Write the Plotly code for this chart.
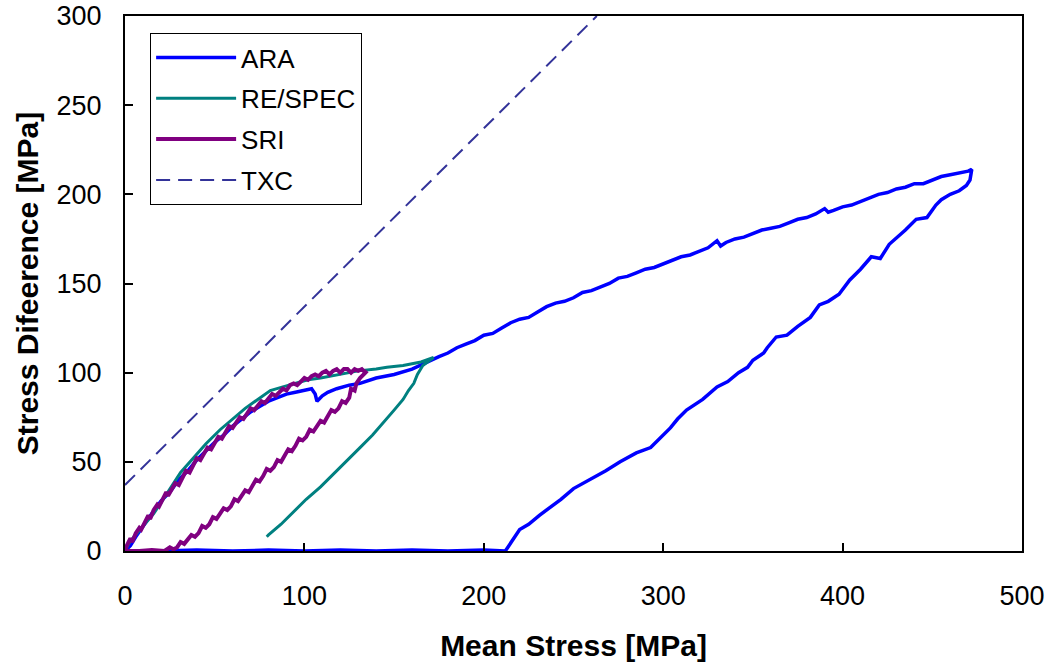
import plotly.graph_objects as go

# ---- data ----
ara_x = [0, 3, 6, 10, 15, 20, 25, 30, 35, 40, 45, 50, 55, 60, 65, 70, 75, 80, 85, 90, 95, 100, 104, 106, 107, 108, 110, 113, 118, 125, 131, 140, 150, 160,
         170, 175, 180, 185, 190, 195, 200, 205, 210, 215, 220, 225, 230, 235, 240, 245, 250, 255, 260, 265, 270, 275, 280, 285, 290, 295, 300, 305, 310, 315, 320, 325, 330, 332, 335, 340, 345, 350, 355, 360, 365, 370, 375, 380, 385, 390, 392, 395, 400, 405, 410, 415, 420, 425, 430, 435, 440, 445, 450, 455, 460, 465, 470, 472,
         471, 469, 465, 460, 455, 452, 447, 441, 435, 426, 421, 416, 410, 404, 398, 392, 387, 382, 375, 369, 363, 358, 356, 350, 347, 342, 336, 330, 322, 313, 308, 304, 298, 293, 285, 276, 268, 259, 250, 243, 236, 231, 225, 220, 216, 213, 212,
         200, 180, 160, 140, 120, 100, 80, 60, 40, 20, 0]
ara_y = [0, 3, 8, 14, 21, 28, 33, 40, 45, 51, 56, 61, 65, 70, 74, 78, 81, 84, 86, 88, 89, 90, 91, 88, 84, 85, 87, 89, 91, 93, 94, 97, 99, 102,
         107, 109, 111, 114, 116, 118, 121, 122, 125, 128, 130, 131, 134, 137, 139, 140, 142, 145, 146, 148, 150, 153, 154, 156, 158, 159, 161, 163, 165, 166, 168, 170, 174, 171, 173, 175, 176, 178, 180, 181, 182, 184, 186, 187, 189, 192, 190, 191, 193, 194, 196, 198, 200, 201, 203, 204, 206, 206, 208, 210, 211, 212, 213, 214,
         208, 205, 202, 200, 197, 194, 187, 186, 180, 172, 164, 165, 158, 152, 144, 140, 138, 131, 126, 121, 120, 114, 111, 107, 103, 100, 95, 92, 85, 79, 74, 69, 63, 58, 55, 50, 45, 40, 35, 29, 24, 20, 15, 12, 6, 2, 0,
         0.5, 0, 0.5, 0, 0.5, 0, 0.5, 0, 0.5, 0, 0]

respec_x = [0, 2, 5, 10, 16, 20, 25, 31, 38, 45, 53, 60, 67, 74, 81, 88, 95, 102, 109, 120, 130, 140, 146, 155, 165, 172,
            169, 166, 163, 161, 158, 155, 150, 144, 138, 131, 124, 116, 109, 101, 94, 87, 80, 79]
respec_y = [0, 4, 8, 14, 21, 27, 35, 44, 52, 60, 68, 74, 80, 85, 90, 92, 94, 96, 97, 99, 101, 102, 103, 104, 106, 108.5,
            106, 104, 99, 94, 90, 85, 79, 72, 65, 58, 51, 43, 36, 29, 22, 15, 9, 8]

sri_x = [0, 1, 3, 4, 6, 8, 9, 11, 13, 14, 16, 18, 19, 21, 23, 24, 26, 28, 30, 32, 34, 36, 38, 40, 42, 44, 46, 48, 50, 52, 54, 56, 58, 60, 62, 64, 66, 68, 70, 72, 74, 76, 78, 80, 82, 84, 86, 88, 90, 92, 94, 96, 98, 100, 102, 104, 106, 108, 110, 112, 114, 116, 118, 120, 122, 124, 126, 128, 130, 132, 134, 135,
         133, 131, 129, 128, 126, 125, 123, 121, 119, 117, 115, 113, 111, 109, 107, 105, 103, 101, 99, 97, 95, 93, 91, 89, 87, 85, 83, 81, 79, 77, 75, 73, 71, 69, 67, 65, 63, 61, 59, 57, 55, 53, 51, 49, 47, 45, 43, 41, 39, 37, 35, 33, 31, 29, 27, 25, 22, 15, 8, 0]
sri_y = [0, 3, 7, 5, 10, 13, 12, 16, 20, 18, 23, 26, 25, 29, 33, 31, 35, 38, 37, 41, 45, 44, 48, 52, 51, 55, 58, 57, 61, 64, 63, 67, 70, 69, 72, 75, 74, 77, 80, 79, 82, 84, 83, 86, 88, 87, 89, 91, 90, 93, 94, 93, 95, 97, 96, 98, 99, 98, 100, 101, 99, 101, 102, 100, 102, 102, 100, 102, 101, 102, 100, 101,
         99, 97, 94, 90, 91, 86, 83, 84, 80, 78, 79, 75, 72, 73, 70, 67, 68, 64, 62, 63, 59, 56, 57, 53, 50, 51, 47, 45, 46, 42, 39, 40, 36, 33, 34, 31, 28, 29, 25, 23, 24, 21, 18, 19, 15, 13, 14, 10, 8, 9, 6, 4, 5, 2, 1, 2, 0, 0.5, 0, 0]

txc_x = [0, 263]
txc_y = [37, 300]

x_ticks = [0, 100, 200, 300, 400, 500]
y_ticks = [0, 50, 100, 150, 200, 250, 300]

FONT = "Liberation Sans, Arial, sans-serif"

fig = go.Figure()
fig.add_trace(go.Scatter(x=ara_x, y=ara_y, mode="lines", name="ARA",
                         line=dict(color="#0000FF", width=3.5), legendgroup="a"))
fig.add_trace(go.Scatter(x=respec_x, y=respec_y, mode="lines", name="RE/SPEC",
                         line=dict(color="#008080", width=3), legendgroup="b"))
fig.add_trace(go.Scatter(x=sri_x, y=sri_y, mode="lines", name="SRI",
                         line=dict(color="#800080", width=4), legendgroup="c"))
fig.add_trace(go.Scatter(x=txc_x, y=txc_y, mode="lines", name="TXC",
                         line=dict(color="#333399", width=2, dash="14px,8px"), legendgroup="d"))

fig.update_layout(
    width=1051, height=663,
    margin=dict(l=125, r=29, t=16, b=112),
    paper_bgcolor="white", plot_bgcolor="white",
    font=dict(family=FONT, size=26, color="black"),
    showlegend=True,
    legend=dict(x=0.028, y=0.968, xanchor="left", yanchor="top",
                bordercolor="black", borderwidth=1, bgcolor="white",
                font=dict(size=26), tracegroupgap=4, itemwidth=80),
)
fig.update_xaxes(range=[0, 500], tickvals=x_ticks, ticks="inside", ticklen=8, tickwidth=1.5,
                 tickcolor="black", showline=True, linecolor="black", linewidth=2, mirror=True,
                 showgrid=False, zeroline=False, ticklabelstandoff=20, automargin=False,
                 tickfont=dict(size=27),
                 title=dict(text="<b>Mean Stress [MPa]</b>", font=dict(size=30), standoff=25))
fig.update_yaxes(range=[0, 300], tickvals=y_ticks, ticks="inside", ticklen=8, tickwidth=1.5,
                 tickcolor="black", showline=True, linecolor="black", linewidth=2, mirror=True,
                 showgrid=False, zeroline=False, ticklabelstandoff=16, automargin=False,
                 tickfont=dict(size=27),
                 title=dict(text="<b>Stress Difeerence [MPa]</b>", font=dict(size=30), standoff=9))

fig.write_html("out.html", config={"displayModeBar": False},
               post_script="document.body.style.margin='0';")
